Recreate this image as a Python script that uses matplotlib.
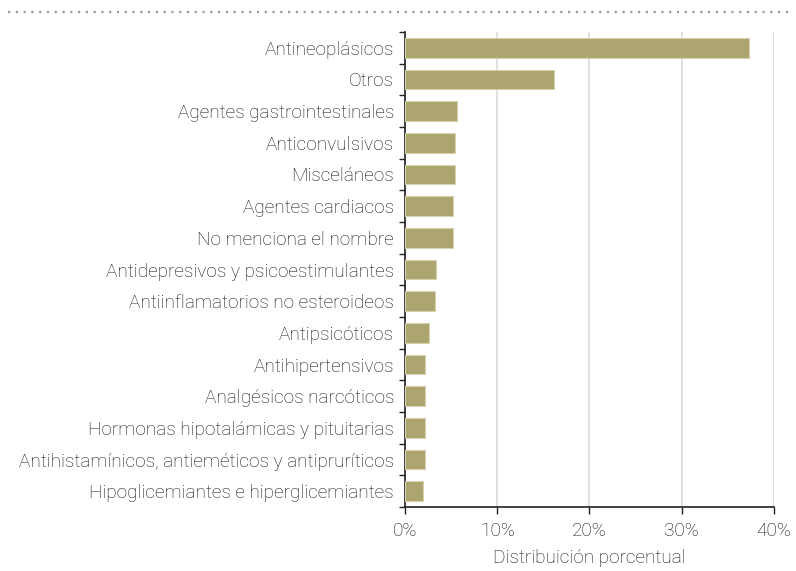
import matplotlib.pyplot as plt
import numpy as np
from matplotlib.ticker import FixedLocator, PercentFormatter

categorias = [
    "Antineoplásicos",
    "Otros",
    "Agentes gastrointestinales",
    "Anticonvulsivos",
    "Misceláneos",
    "Agentes cardiacos",
    "No menciona el nombre",
    "Antidepresivos y psicoestimulantes",
    "Antiinflamatorios no esteroideos",
    "Antipsicóticos",
    "Antihipertensivos",
    "Analgésicos narcóticos",
    "Hormonas hipotalámicas y pituitarias",
    "Antihistamínicos, antieméticos y antipruríticos",
    "Hipoglicemiantes e hiperglicemiantes",
]
porcentajes = [37.3, 16.2, 5.6, 5.4, 5.4, 5.2, 5.2, 3.4, 3.2, 2.6, 2.1, 2.1, 2.1, 2.1, 1.9]
ticks_x = [0, 10, 20, 30, 40]

plt.rcParams['font.family'] = ['Roboto', 'DejaVu Sans']
plt.rcParams['font.weight'] = 'light'
plt.rcParams['axes.labelweight'] = 'light'

texto = "#111111"
fs = 13.7

fig = plt.figure(figsize=(7.96, 5.71), dpi=100)
ax = fig.add_axes([0.509, 0.112, 0.463, 0.832])

y = np.arange(len(categorias))
ax.barh(y, porcentajes, height=0.62, color="#aca570", edgecolor="#d6d2ae", linewidth=0.8, zorder=3)

ax.set_ylim(len(categorias) - 0.5, -0.5)
ax.set_xlim(0, 40)
ax.set_yticks(y)
ax.set_yticklabels(categorias, fontsize=fs, color=texto, fontweight='light')
ax.yaxis.set_minor_locator(FixedLocator(np.arange(-0.5, len(categorias), 1)))
ax.tick_params(axis='y', which='major', length=0, pad=8)
ax.tick_params(axis='y', which='minor', length=4, width=1, color="#222222")

ax.set_xticks(ticks_x)
ax.xaxis.set_major_formatter(PercentFormatter(decimals=0))
ax.tick_params(axis='x', length=5, width=1, color="#222222", labelsize=fs, labelcolor=texto, pad=6)
ax.set_xlabel("Distribuición porcentual", fontsize=fs, color=texto, fontweight='light', labelpad=6)

ax.grid(axis='x', color="#d9d9d9", linewidth=1.2, zorder=0)
for s in ['top', 'right']:
    ax.spines[s].set_visible(False)
ax.spines['left'].set_color("#222222")
ax.spines['bottom'].set_color("#222222")
ax.spines['left'].set_linewidth(1.2)
ax.spines['bottom'].set_linewidth(1.2)

fig.add_artist(plt.Line2D([0.01, 0.993], [0.979, 0.979], transform=fig.transFigure,
                          color="#999999", linestyle=(0, (1, 2.5)), linewidth=1.6))

fig.savefig("out.png", dpi=100)
